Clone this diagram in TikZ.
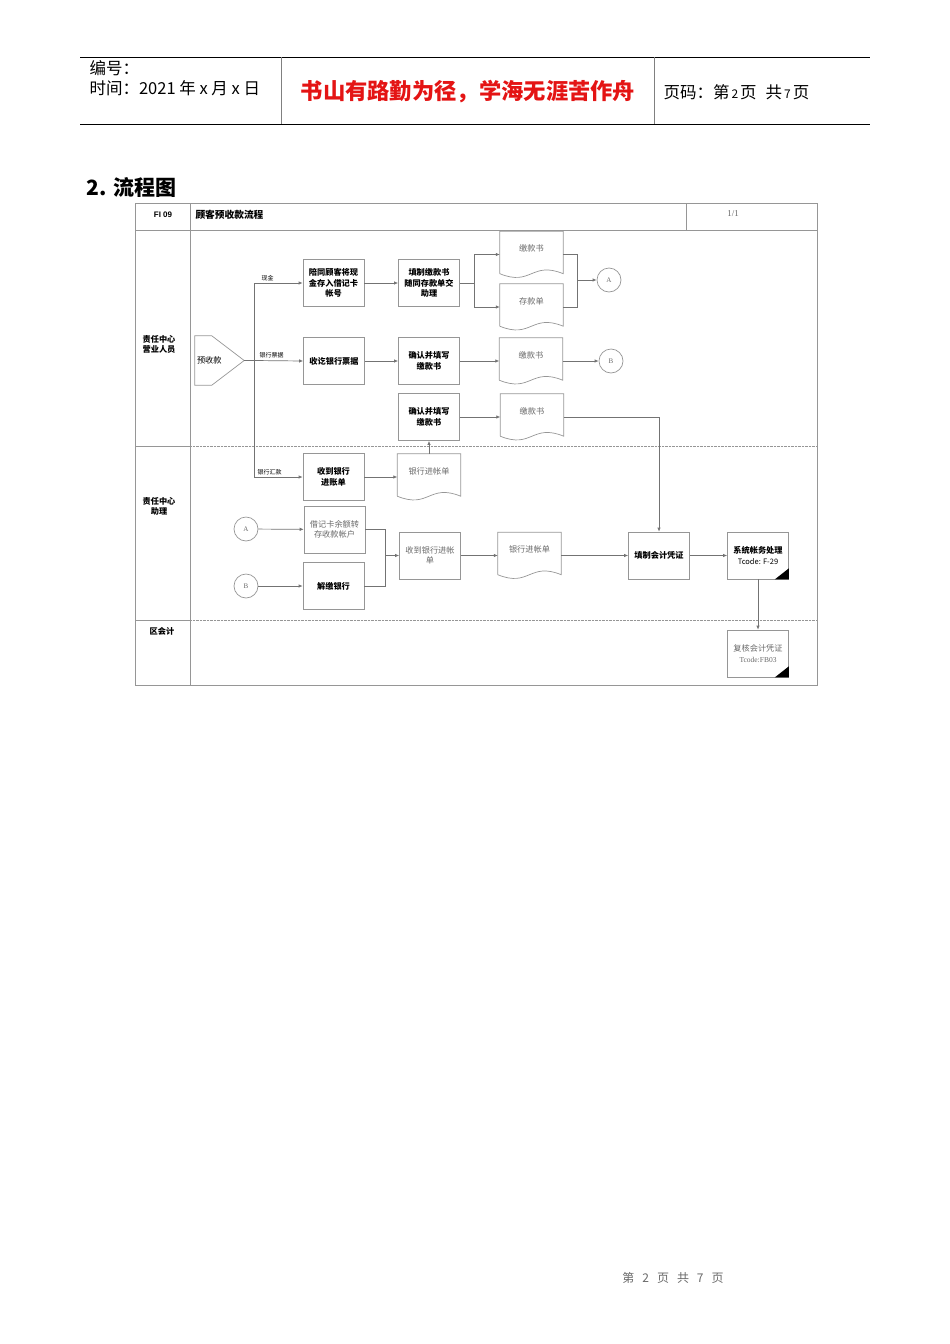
\documentclass[tikz,border=0pt]{standalone}
\usepackage{fontspec}
\setmainfont{Liberation Sans}
\newfontfamily\cjk{Noto Sans CJK SC}
\newfontfamily\serifnum{Liberation Serif}
\usetikzlibrary{arrows.meta,calc}
\definecolor{boxline}{RGB}{150,150,150}
\definecolor{lineclr}{RGB}{115,115,115}
\definecolor{graytxt}{RGB}{105,105,105}
\definecolor{headred}{RGB}{228,20,20}
\newcommand\docshape[1]{\draw[boxline,line width=0.7pt] ($(#1.south west)+(0,-4)$) -- (#1.north west) -- (#1.north east) -- ($(#1.south east)+(0,-4)$)
  .. controls ($(#1.south)+(0,-17)$) and ($(#1.south)+(0,9)$) .. ($(#1.south west)+(0,-4)$);}
\newcommand\blackcorner[1]{\fill (#1.south east) -- ++(-14,0) -- ++(14,-11) -- cycle;}

\begin{document}
\begin{tikzpicture}[x=1pt,y=-1pt,>={Latex[length=4pt,width=3.5pt]},
  proc/.style={draw=boxline,line width=0.7pt,minimum width=61pt,minimum height=47pt,inner sep=1pt,align=center,
    font=\cjk\bfseries\fontsize{8.2}{10.5}\selectfont},
  gproc/.style={proc,text=graytxt,font=\cjk\fontsize{8.2}{10.5}\selectfont},
  docu/.style={minimum width=63pt,minimum height=46pt,inner sep=0pt,text height=7pt,text depth=13pt,
    text=graytxt,font=\cjk\fontsize{8.2}{10}\selectfont},
  conn/.style={draw=boxline,line width=0.7pt,circle,minimum size=24pt,inner sep=0pt,text=graytxt,font=\serifnum\fontsize{7}{8}\selectfont},
  lbl/.style={font=\cjk\fontsize{6}{7}\selectfont,inner sep=2pt},
  lane/.style={font=\cjk\bfseries\fontsize{8.2}{10}\selectfont,align=center},
  head/.style={anchor=west,font=\cjk\fontsize{16.5}{18}\selectfont},
  flow/.style={draw=lineclr,line width=0.7pt,->},
  link/.style={draw=lineclr,line width=0.7pt}]
  \useasboundingbox (0,0) rectangle (950,1344);

  % page header
  \draw[line width=0.9pt] (80,57) -- (870,57) (80,124) -- (870,124);
  \draw[gray,line width=1pt] (281,57) -- (281,124) (654,57) -- (654,124);
  \node[head] (bh) at (86,68) {编号：};
  \node[head] (sj) at (86,88) {时间：2021 年 x 月 x 日};
  \node[text=headred,font=\cjk\bfseries\fontsize{22.3}{24}\selectfont] (motto) at (468,92) {书山有路勤为径，学海无涯苦作舟};
  \node[head] (ym) at (660,92) {页码：第\hspace{2pt}{\fontsize{12}{13}\selectfont 2}\hspace{2pt}页\hspace{9pt}共\hspace{2pt}{\fontsize{12}{13}\selectfont 7}\hspace{2pt}页};
  \node[anchor=west,font=\cjk\bfseries\fontsize{21}{22}\selectfont] (sec) at (83,187) {2. 流程图};

  % frame and lanes
  \draw[boxline,line width=1pt] (135,203) rectangle (817,685);
  \draw[boxline,line width=0.8pt] (135,230) -- (817,230) (190,203) -- (190,685) (686,203) -- (686,230)
    (135,446) -- (190,446) (135,620) -- (190,620);
  \draw[boxline,densely dotted] (190,446) -- (817,446) (190,620) -- (817,620);
  \node[font=\bfseries\fontsize{8}{9}\selectfont] (fi) at (163,215) {FI 09};
  \node[anchor=west,font=\cjk\bfseries\fontsize{9.7}{10}\selectfont] (title) at (192,215) {顾客预收款流程};
  \node[text=graytxt,font=\serifnum\fontsize{9}{10}\selectfont] (pg) at (733,214) {1/1};
  \node[lane] (l1) at (159,344) {责任中心\\营业人员};
  \node[lane] (l2) at (159,506) {责任中心\\助理};
  \node[lane] (l3) at (162,631) {区会计};

  % lane 1
  \node[minimum width=49pt,minimum height=49pt,inner sep=2pt,text width=45pt,align=left,
    font=\cjk\fontsize{8.2}{10}\selectfont] (ys) at (219.5,360.5) {预收款};
  \draw[boxline,line width=0.7pt] (ys.north west) -- ($(ys.north west)+(17,0)$) -- (ys.east)
    -- ($(ys.south west)+(17,0)$) -- (ys.south west) -- cycle;
  \coordinate (jn) at (254,360.5);
  \node[proc] (pei) at (333.5,283) {陪同顾客将现\\金存入借记卡\\帐号};
  \node[proc] (tian) at (429,283) {填制缴款书\\随同存款单交\\助理};
  \node[docu] (jk1) at (531.5,254.5) {缴款书};
  \node[docu] (ck) at (531.5,307) {存款单};
  \node[conn] (conA) at (609,280) {A};
  \node[proc] (shou) at (334,361) {收讫银行票据};
  \node[proc] (qr1) at (429,361) {确认并填写\\缴款书};
  \node[docu] (jk2) at (531,361) {缴款书};
  \node[conn] (conB) at (611,361) {B};
  \node[proc] (qr2) at (429,417) {确认并填写\\缴款书};
  \node[docu] (jk3) at (532,417) {缴款书};
  \foreach \d in {jk1,ck,jk2,jk3} {\docshape{\d}}
  \coordinate (sp1) at (474,283);
  \coordinate (mg1) at (577,280);

  % lane 2
  \node[proc] (sdj) at (333.5,477) {收到银行\\进账单};
  \node[docu] (jzd1) at (429,477) {银行进帐单};
  \node[conn] (conA2) at (246,529) {A};
  \node[gproc] (jjk) at (334.5,529.5) {借记卡余额转\\存收款帐户};
  \node[conn] (conB2) at (246,586) {B};
  \node[proc] (jjyh) at (333.5,586) {解缴银行};
  \node[gproc] (sdj2) at (430,555.5) {收到银行进帐\\单};
  \node[docu] (jzd2) at (529.5,555.5) {银行进帐单};
  \node[proc] (pz) at (659,555.5) {填制会计凭证};
  \node[proc] (xt) at (758,555.5) {系统帐务处理\\{\mdseries\fontsize{7.5}{9}\selectfont Tcode: F-29}};
  \foreach \d in {jzd1,jzd2} {\docshape{\d}}
  \blackcorner{xt}
  \coordinate (mg2) at (385,555.5);

  % lane 3
  \node[gproc] (fh) at (758,653.5) {复核会计凭证\\{\serifnum\fontsize{7.5}{9}\selectfont Tcode:FB03}};
  \blackcorner{fh}

  % connectors
  \draw[link] (ys.east) -- (jn);
  \draw[flow] (jn) |- (pei.west) node[lbl,pos=0.64,above] {现金};
  \draw[flow] (jn) -- (shou.west) node[lbl,pos=0.36,above] {银行票据};
  \draw[flow] (jn) |- (sdj.west) node[lbl,pos=0.66,above] {银行汇款};
  \draw[flow] (pei) -- (tian);
  \draw[link] (tian.east) -- (sp1);
  \draw[flow] (sp1) |- (jk1.west);
  \draw[flow] (sp1) |- (ck.west);
  \draw[link] (jk1.east) -| (mg1);
  \draw[link] (ck.east) -| (mg1);
  \draw[flow] (mg1) -- (conA);
  \draw[flow] (shou) -- (qr1);
  \draw[flow] (qr1) -- (jk2);
  \draw[flow] (jk2) -- (conB);
  \draw[flow] (qr2) -- (jk3);
  \draw[flow] (jk3.east) -| (pz.north);
  \draw[flow] (sdj) -- (jzd1);
  \draw[flow] (jzd1.north) -- (qr2.south);
  \draw[flow] (conA2) -- (jjk);
  \draw[flow] (conB2) -- (jjyh);
  \draw[link] (jjk.east) -| (mg2);
  \draw[link] (jjyh.east) -| (mg2);
  \draw[flow] (mg2) -- (sdj2.west);
  \draw[flow] (sdj2) -- (jzd2);
  \draw[flow] (jzd2) -- (pz);
  \draw[flow] (pz) -- (xt);
  \draw[flow] (xt.south) -- (fh.north);

  % page footer
  \node[text=graytxt,font=\cjk\fontsize{12}{13}\selectfont] (ft) at (673,1278)
    {第\hspace{8pt}2\hspace{8pt}页\hspace{8pt}共\hspace{8pt}7\hspace{8pt}页};
\end{tikzpicture}
\end{document}
